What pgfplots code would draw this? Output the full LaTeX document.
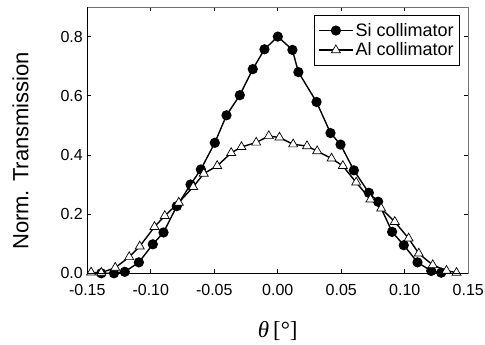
\documentclass[border=0pt]{standalone}
\usepackage{fontspec}
\setmainfont{Liberation Sans}
\newfontfamily\seriffont{Liberation Serif}
\usepackage{pgfplots}
\pgfplotsset{compat=1.18}

\pgfplotstableread{
x y
-0.1390 0.000
-0.1290 0.000
-0.1205 0.005
-0.1094 0.037
-0.0984 0.098
-0.0900 0.138
-0.0795 0.227
-0.0687 0.300
-0.0606 0.351
-0.0496 0.441
-0.0404 0.534
-0.0299 0.602
-0.0197 0.690
-0.0105 0.757
0.0000 0.800
0.0115 0.755
0.0162 0.680
0.0305 0.579
0.0415 0.474
0.0494 0.435
0.0599 0.348
0.0717 0.272
0.0790 0.242
0.0900 0.140
0.0992 0.095
0.1100 0.037
0.1208 0.008
0.1287 0.002
}\sidata

\pgfplotstableread{
x y
-0.1470 0.003
-0.1390 0.002
-0.1280 0.019
-0.1170 0.055
-0.1087 0.091
-0.0971 0.157
-0.0890 0.194
-0.0780 0.239
-0.0666 0.292
-0.0583 0.337
-0.0477 0.363
-0.0367 0.407
-0.0286 0.427
-0.0170 0.442
-0.0071 0.464
0.0013 0.459
0.0121 0.436
0.0230 0.430
0.0310 0.413
0.0423 0.388
0.0512 0.363
0.0617 0.307
0.0730 0.250
0.0814 0.219
0.0921 0.174
0.1030 0.118
0.1110 0.067
0.1220 0.028
0.1328 0.009
0.1407 0.002
}\aldata

\begin{document}
\begin{tikzpicture}[x=1pt,y=1pt]
\path[use as bounding box] (0,0) rectangle (485,345);
\begin{axis}[
  at={(87.3pt,71.7pt)}, anchor=south west,
  scale only axis, width=381pt, height=266.3pt,
  xmin=-0.15, xmax=0.15, ymin=0, ymax=0.9,
  xtick={-0.15,-0.10,-0.05,0,0.05,0.10,0.15},
  ytick={0,0.2,0.4,0.6,0.8},
  tick align=inside,
  major tick length=4pt,
  tick style={black, line width=0.6pt},
  axis line style={black!55, line width=0.8pt},
  xticklabel style={font=\fontsize{16}{19}\selectfont, yshift=-7pt,
    /pgf/number format/.cd, fixed, fixed zerofill, precision=2, assume math mode=true},
  yticklabel style={font=\fontsize{16}{19}\selectfont, xshift=-1pt,
    /pgf/number format/.cd, fixed, fixed zerofill, precision=1, assume math mode=true},
  scaled ticks=false,
  clip=false,
  xlabel={{\seriffont\itshape θ}\,{\seriffont[°]}},
  xlabel style={font=\fontsize{23}{26}\selectfont, at={(axis description cs:0.5,-0.215)}, anchor=center},
  ylabel={Norm. Transmission},
  ylabel style={font=\fontsize{22}{26}\selectfont, at={(axis description cs:-0.175,0.46)}, anchor=center},
  legend style={at={(0.978,0.970)}, anchor=north east, draw=black, line width=0.6pt,
    font=\fontsize{18}{21}\selectfont, inner xsep=4pt, inner ysep=6pt, row sep=1pt},
  legend cell align=left,
  legend image code/.code={%
    \draw[mark repeat=2, mark phase=2] plot coordinates {(0pt,0pt) (17pt,0pt) (34pt,0pt)};},
  after end axis/.code={
    \draw[black, line width=1pt] (rel axis cs:0,1) -- (rel axis cs:0,0) -- (rel axis cs:1,0);
  },
]
\addplot[black, line width=1.4pt, mark=*, mark size=4.4pt, mark options={solid, fill=black}] table {\sidata};
\addlegendentry{Si collimator}
\addplot[black, line width=1.4pt, mark=triangle*, mark size=5.2pt, mark options={solid, fill=white, line width=0.7pt}] table {\aldata};
\addlegendentry{Al collimator}
\end{axis}
\end{tikzpicture}
\end{document}
